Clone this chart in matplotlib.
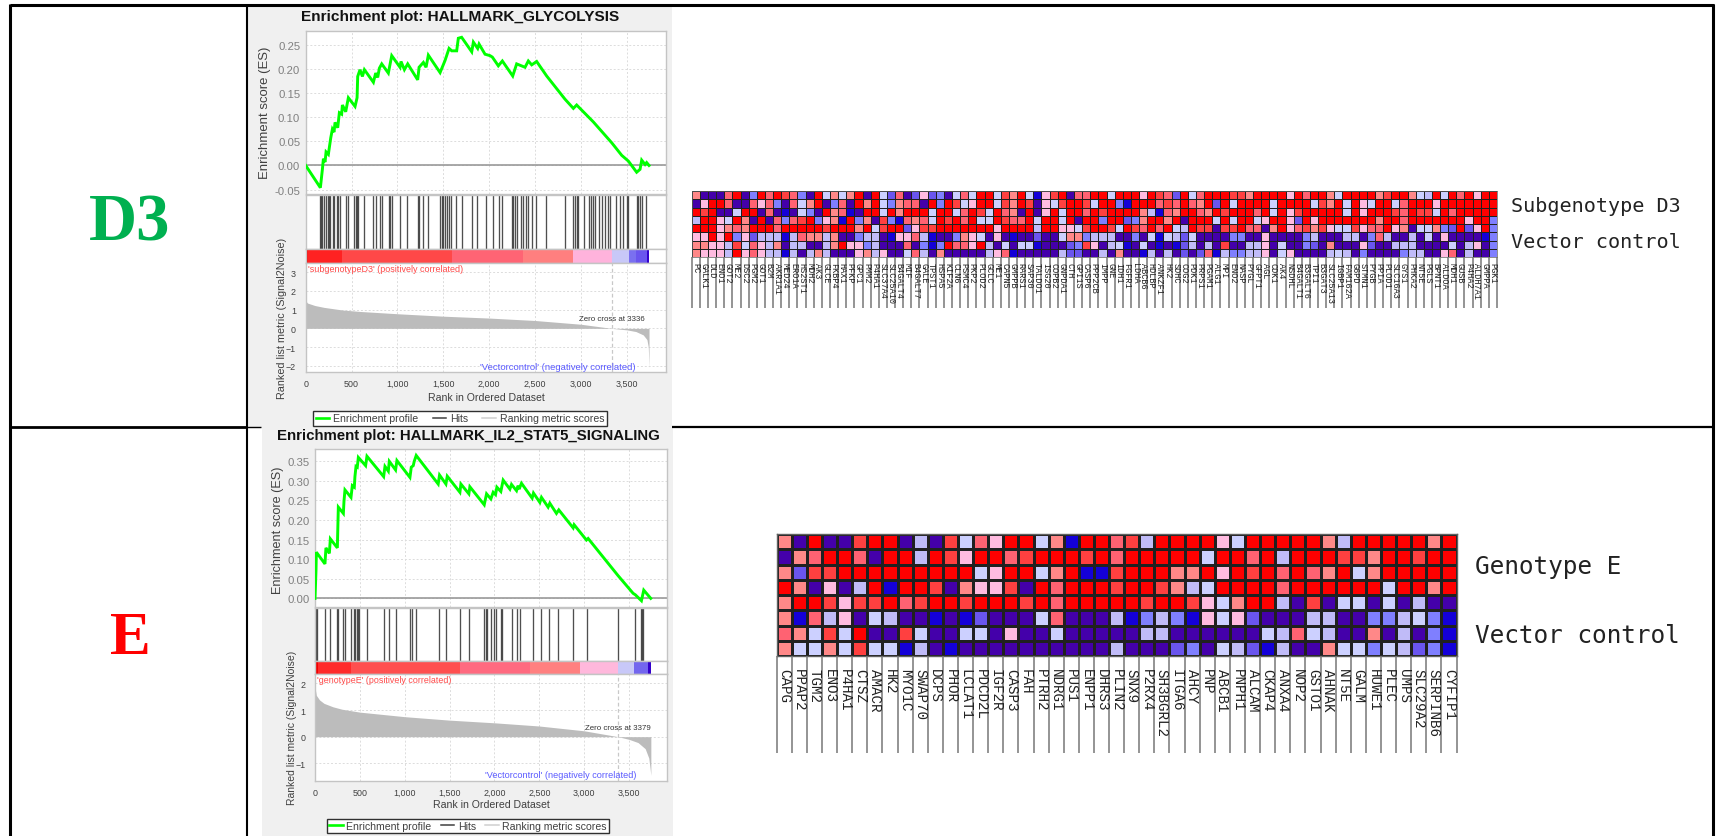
import matplotlib
matplotlib.use("Agg")
import matplotlib.pyplot as plt
import numpy as np
from matplotlib.colors import ListedColormap
from matplotlib.lines import Line2D
from matplotlib.patches import Rectangle

W, H = 1721, 837

# ---- GSEA panel D3
d3_es_rank = [0, 160, 182, 193, 211, 222, 247, 273, 291, 309, 320, 349, 367, 392, 400, 436, 465, 538, 560, 567,
              592, 618, 640, 738, 763, 785, 803, 829, 901, 938, 1028, 1039, 1076, 1112, 1221, 1236, 1283, 1312,
              1337, 1465, 1519, 1563, 1592, 1646, 1664, 1700, 1810, 1828, 1875, 1890, 1955, 2010, 2035, 2100,
              2144, 2257, 2300, 2391, 2427, 2464, 2518, 2627, 2827, 2918, 2954, 3136, 3336, 3445, 3518, 3608,
              3645, 3663, 3700, 3717, 3743]
d3_es = [0, -0.046, -0.008, 0.014, 0.007, 0.028, 0.023, 0.057, 0.075, 0.069, 0.089, 0.078, 0.109, 0.106, 0.125,
         0.111, 0.140, 0.122, 0.140, 0.184, 0.198, 0.184, 0.198, 0.172, 0.191, 0.182, 0.201, 0.210, 0.191, 0.227,
         0.203, 0.215, 0.198, 0.210, 0.177, 0.203, 0.213, 0.203, 0.228, 0.192, 0.217, 0.242, 0.237, 0.237, 0.263,
         0.265, 0.235, 0.255, 0.242, 0.251, 0.230, 0.227, 0.224, 0.206, 0.216, 0.185, 0.210, 0.203, 0.216, 0.208,
         0.215, 0.185, 0.137, 0.118, 0.125, 0.090, 0.047, 0.021, 0.009, -0.014, -0.008, 0.011, 0.002, 0.006, 0]
d3_hits = [153, 167, 182, 204, 225, 240, 254, 269, 294, 313, 342, 356, 378, 436, 458, 527, 545, 563, 574, 636,
           738, 767, 810, 829, 905, 919, 938, 1028, 1108, 1221, 1239, 1283, 1330, 1461, 1483, 1501, 1519, 1544,
           1563, 1584, 1635, 1701, 1810, 1871, 1962, 2039, 2111, 2144, 2246, 2264, 2282, 2300, 2348, 2373, 2398,
           2427, 2471, 2507, 2620, 2827, 2918, 2936, 2954, 2973, 3034, 3089, 3111, 3136, 3154, 3198, 3234, 3263,
           3300, 3318, 3383, 3427, 3463, 3500, 3518, 3608, 3627, 3645, 3663, 3710]
d3_metric_rank = [0, 3, 20, 100, 200, 400, 600, 1000, 1500, 2000, 2500, 3000, 3336, 3500, 3600, 3680, 3720, 3735, 3743]
d3_metric = [1.6, 1.45, 1.35, 1.22, 1.12, 0.98, 0.90, 0.78, 0.65, 0.55, 0.42, 0.22, 0, -0.08, -0.17, -0.35, -0.6, -1.0, -2.1]
d3_band_edges = [0, 20, 400, 1600, 2370, 2910, 3336, 3530, 3600, 3725, 3743]
d3_band_colors = ['#f80000', '#ff2222', '#ff4848', '#ff6474', '#ff7f7f', '#ffb3dc', '#c8c8f8', '#7a70f0', '#6a55ee', '#3300cc']

# ---- GSEA panel E
e_es_rank = [0, 11, 15, 111, 122, 160, 171, 249, 260, 316, 323, 334, 401, 416, 438, 445, 457, 471, 483, 564, 579,
             765, 780, 817, 828, 898, 913, 1058, 1073, 1095, 1106, 1128, 1373, 1388, 1459, 1474, 1615, 1626, 1715,
             1726, 1886, 1912, 1960, 1986, 2012, 2027, 2071, 2097, 2172, 2190, 2246, 2264, 2275, 2301, 2420, 2435,
             2506, 2524, 2598, 2617, 2691, 2717, 2877, 2888, 3025, 3044, 3378, 3545, 3571, 3638, 3664, 3742]
e_es = [0, 0.071, 0.118, 0.088, 0.129, 0.115, 0.152, 0.129, 0.233, 0.217, 0.248, 0.277, 0.258, 0.288, 0.284, 0.311,
        0.337, 0.335, 0.360, 0.339, 0.363, 0.311, 0.337, 0.325, 0.350, 0.328, 0.352, 0.309, 0.335, 0.339, 0.350,
        0.365, 0.292, 0.315, 0.292, 0.312, 0.271, 0.292, 0.267, 0.285, 0.239, 0.267, 0.254, 0.271, 0.265, 0.284,
        0.273, 0.302, 0.279, 0.291, 0.275, 0.288, 0.279, 0.294, 0.256, 0.269, 0.245, 0.258, 0.233, 0.243, 0.217,
        0.226, 0.180, 0.188, 0.149, 0.153, 0.058, 0.013, 0.009, -0.006, 0.021, 0]
e_hits = [11, 22, 115, 163, 249, 256, 316, 330, 405, 434, 449, 464, 475, 486, 575, 768, 820, 902, 1062, 1076, 1121,
          1385, 1459, 1615, 1715, 1886, 1901, 1915, 1960, 1990, 2019, 2068, 2086, 2190, 2253, 2290, 2428, 2517, 2610,
          2710, 2877, 3029, 3374, 3571, 3638, 3649, 3660]
e_metric_rank = [0, 15, 50, 100, 200, 300, 500, 1000, 1500, 2000, 2500, 3000, 3379, 3500, 3600, 3680, 3720, 3735, 3743]
e_metric = [1.85, 1.55, 1.38, 1.25, 1.12, 1.03, 0.92, 0.75, 0.62, 0.52, 0.40, 0.22, 0, -0.1, -0.22, -0.45, -0.8, -1.2, -1.45]
e_band_edges = [0, 30, 400, 1620, 2400, 2950, 3379, 3550, 3710, 3743]
e_band_colors = ['#f00000', '#ff2a2a', '#ff4f4f', '#ff6a80', '#ff8080', '#ffb8dc', '#c8c8f8', '#7366ee', '#3300cc']

rank_ticks = [0, 500, 1000, 1500, 2000, 2500, 3000, 3500]
rank_labels = ['0', '500', '1,000', '1,500', '2,000', '2,500', '3,000', '3,500']

# ---- heat maps, one letter per colour level
level_keys = 'rosmplcbvdu'
level_colors = ['#ff0000', '#ff4040', '#ff6272', '#ff8888', '#ffbbe0', '#ccd0ff', '#c0bbf8',
                '#7f7fff', '#6a55ee', '#4400aa', '#1400d8']

d3_rows = [
    'mdddsrdbrsrosbdrlmlmrdr' 'lvsdvpvbdlslrrlomrlupor' 'd' 'ssrrlrrrprosvrlsrrroomrr' 'rrprsrrmlrrrrmorrmlcrlrs' 'rprr',
    'dprrsddspsbdslmrdbsdrmr' 'lbmssdrbrolprrlomrodplo' 'r' 'rolrrburrrsosrsmrvrlrrrr' 'lrrrrlomrlrplrrlsrrrprrr' 'rrrr',
    'rorddlrrdsdudlbdrmsudrr' 'lrmrrrlrrlsrolrsmdrdprl' 'r' 'rsrorrrrmcusmrrsmrorrrsr' 'lrporrrrrlrprrrosroolrsr' 'rrrr',
    'crrplrmdrdsbsorbpmurbmd' 'obusmslrorsrllrossrlrrl' 'r' 'drrbrrvbmrrmrdrrrlrlrrlp' 'rrpvrprrrrrrrmrrsrrrrrrr' 'prrb',
    'rrrpmsmrrrsrrrrrorrrmrl' 'orrvpoorrrrrrrprrrrcrrp' 'p' 'lorrolrosrsrlcroodoorssd' 'mrpsomopllopssrpmdllmbvr' 'vprb',
    'pprprbpvcccucsmmcmddbcc' 'duppscuddbmpldpduddvddl' 'm' 'mbcccddbdlulcvlddddbbddp' 'ddddbcdddccdbscddcdldpdd' 'ddub',
    'mmppcolspcmdccddcmrppbc' 'dddsdbubrssprcdldlluddd' 'v' 'bopdcludlduduvcdcdoddccp' 'dlddbvdmdddpvddcccddddld' 'cpdb',
    'mpppcrpspccucdcmcdddpmc' 'pddlscdmdddddcpsudddddc' 'v' 'vddcdmdducdcdvdvsucbbccp' 'dlpddddclcdbddddbccddpsd' 'cddb',
]
d3_genes = ['PC', 'GALK1', 'DLD', 'ENO1', 'GOT2', 'ME2', 'DSC2', 'PGM2', 'GOT1', 'B2M', 'AKR1A1', 'MED24', 'ERO1A',
            'HS2ST1', 'MDH2', 'AK3', 'GLCE', 'FKBP4', 'HAX1', 'PFKP', 'GPC1', 'PMM2', 'P4HA1', 'SLC37A4', 'SLC25A10',
            'B4GALT4', 'MIF', 'B4GALT7', 'GALE', 'TPST1', 'HSPA5', 'KIF2A', 'CLN6', 'PSMC4', 'PKP2', 'PLOD2', 'GCLC',
            'ME1', 'CAPN5', 'GMPPB', 'RARS1', 'SAP30', 'TALDO1', 'ISG20', 'COPB2', 'GNPDA1', 'CTH', 'GPI1S', 'CASP6',
            'PPP2CB', 'IMPP', 'GNE', 'IDH1', 'FGFR1', 'LDHA', 'ABCB6', 'HDLBP', 'ANKZF1', 'HK2', 'SDHC', 'COG2', 'PDK1',
            'PRPS1', 'PGAM1', 'ALG1', 'MPI', 'ENO2', 'NASP', 'PYGL', 'GFPT1', 'AGL', 'CDK1', 'AK4', 'NSDHL', 'B4GALT1',
            'B3GALT6', 'TPI1', 'B3GAT3', 'SLC25A13', 'IGBP1', 'FAM162A', 'G6PD', 'STMN1', 'PYGB', 'PPIA', 'PLOD1',
            'SLC16A3', 'GYS1', 'PHKA2', 'NT5E', 'PGLS', 'BPNT1', 'ALDOA', 'MDH1', 'GUSB', 'P4HA2', 'ALDH7A1', 'GMPPA',
            'PGK1']

e_rows = [
    'mdrddorrdcdolsprrlmurrs' 'ocrrrrplrrrrrmcrrrrrmr',
    'dmsrrsdrrcroprrsorrrors' 'rrrrrlrrsrcrrroomrrorr',
    'mvoorrrrrrrrrlprrlmruuo' 'rrrmmrprorsrsmrlmrrrrr',
    'rmdpdcrurrodmppodrsrrro' 'rromclrrrrsrrrrrrlrrmr',
    'mrropoorsorrorrrorsrrrr' 'rorroplmrrcdodlldldcdd',
    'muscpdlcdduduvdddlsdddc' 'ubcbuplpvdddccddbbclbu',
    'smlolrddolddlldpddldddd' 'dccddddddlcslcddmdcdbu',
    'mllmlollucdu' 'dddddddddd' 'c' 'dddvbdlcvucddmllblcvbu',
]
e_genes = ['CAPG', 'PPAP2', 'TGM2', 'ENO3', 'P4HA1', 'CTSZ', 'AMACR', 'HK2', 'MYO1C', 'SWAP70', 'DCPS', 'PHOR', 'LCLAT1',
           'PDCD2L', 'IGF2R', 'CASP3', 'FAH', 'PTRH2', 'NDRG1', 'PUS1', 'ENPP1', 'DHRS3', 'PLIN2', 'SNX9', 'P2RX4',
           'SH3BGRL2', 'ITGA6', 'AHCY', 'PNP', 'ABCB1', 'PNPH1', 'ALCAM', 'CKAP4', 'ANXA4', 'NOP2', 'GSTO1', 'AHNAK',
           'NT5E', 'GALM', 'HUWE1', 'PLEC', 'UMPS', 'SLC29A2', 'SERPINB6', 'CYFIP1']


def px_axes(left, top, right, bottom):
    ax = fig.add_axes([left / W, 1 - bottom / H, (right - left) / W, (bottom - top) / H])
    return ax


def px_text(x, y, s, **kw):
    fig.text(x / W, 1 - y / H, s, ha=kw.pop('ha', 'center'), va=kw.pop('va', 'center'), **kw)


def px_line(x0, y0, x1, y1, lw=2.2, color='black'):
    fig.add_artist(Line2D([x0 / W, x1 / W], [1 - y0 / H, 1 - y1 / H], lw=lw, color=color, solid_capstyle='butt', zorder=5))


def style_frame(ax):
    for s in ax.spines.values():
        s.set_color('#c4c4c4')
        s.set_linewidth(1.0)


def gsea(box, xmax, es_rank, es, es_ylim, es_ticks, hits, band_edges, band_colors, metric_rank, metric,
         metric_ylim, metric_ticks, zero_cross):
    left, right, t0, t1, t2, t3, t4 = box
    ax1 = px_axes(left, t0, right, t1)
    ax1.plot(es_rank, es, color='#00ff00', lw=2.1, solid_joinstyle='miter', zorder=3)
    ax1.axhline(0, color='#999999', lw=1.2, zorder=2)
    ax1.set_xlim(0, xmax)
    ax1.set_ylim(*es_ylim)
    ax1.set_xticks(rank_ticks)
    ax1.set_yticks(es_ticks)
    ax1.set_yticklabels(['%.2f' % v for v in es_ticks])
    ax1.tick_params(axis='x', bottom=False, labelbottom=False)
    ax1.tick_params(axis='y', length=0, pad=4, labelsize=8.2, labelcolor='#808080')
    ax1.grid(True, color='#dcdcdc', ls=(0, (2, 2)), lw=0.7)
    style_frame(ax1)

    ax2 = px_axes(left, t1 + 1, right, t2)
    ax2.vlines(hits, 0, 1, color='#303030', lw=0.95, alpha=0.85)
    ax2.set_xlim(0, xmax)
    ax2.set_ylim(0, 1)
    ax2.set_xticks([])
    ax2.set_yticks([])
    style_frame(ax2)

    ax3 = px_axes(left, t2, right, t3)
    for i, c in enumerate(band_colors):
        ax3.axvspan(band_edges[i], band_edges[i + 1], color=c, lw=0)
    ax3.set_xlim(0, xmax)
    ax3.set_xticks([])
    ax3.set_yticks([])
    style_frame(ax3)

    ax4 = px_axes(left, t3, right, t4)
    ax4.fill_between(metric_rank, metric, 0, color='#bcbcbc', lw=0, zorder=2)
    ax4.axvline(zero_cross, color='#c8c8c8', ls=(0, (3, 2)), lw=0.9, zorder=3)
    ax4.set_xlim(0, xmax)
    ax4.set_ylim(*metric_ylim)
    ax4.set_xticks(rank_ticks)
    ax4.set_xticklabels(rank_labels)
    ax4.set_yticks(metric_ticks)
    ax4.tick_params(axis='x', length=0, pad=5, labelsize=6.4, labelcolor='#404040')
    ax4.tick_params(axis='y', length=0, pad=7, labelsize=6.4, labelcolor='#404040')
    ax4.grid(True, color='#dcdcdc', ls=(0, (2, 2)), lw=0.7)
    ax4.set_axisbelow(True)
    style_frame(ax4)
    return ax4


def heat(left, top, right, bottom, line_end, rows, genes, fs, text_gap, lw):
    values = np.array([[level_keys.index(c) for c in row] for row in rows])
    ax = px_axes(left, top, right, bottom)
    ax.pcolormesh(np.arange(values.shape[1] + 1), np.arange(values.shape[0] + 1), values,
                  cmap=ListedColormap(level_colors), vmin=-0.5, vmax=len(level_colors) - 0.5,
                  edgecolors='#202020', linewidth=lw)
    ax.set_xlim(0, values.shape[1])
    ax.set_ylim(values.shape[0], 0)
    ax.set_xticks([])
    ax.set_yticks([])
    for s in ax.spines.values():
        s.set_color('#606060')
        s.set_linewidth(lw)
    ax_lab = px_axes(left, bottom, right, line_end)
    ax_lab.axis('off')
    ax_lab.set_xlim(0, values.shape[1])
    ax_lab.set_ylim(line_end - bottom, 0)
    ax_lab.vlines(np.arange(values.shape[1] + 1), 0, line_end - bottom, color='#777777', lw=1.1, clip_on=False)
    for i, g in enumerate(genes):
        ax_lab.text(i + 0.5, text_gap, g, rotation=-90, ha='center', va='top', fontsize=fs, color='#222222',
                    family='Liberation Mono')


def legend_box(x0, y0, x1, y1, fs, gap):
    handles = [Line2D([], [], color='#00ff00', lw=1.9), Line2D([], [], color='#404040', lw=1.1),
               Line2D([], [], color='#d0d0d0', lw=1.1)]
    leg = fig.legend(handles, ['Enrichment profile', 'Hits', 'Ranking metric scores'], ncol=3, fontsize=fs,
                     loc='center', bbox_to_anchor=((x0 + x1) / 2 / W, 1 - (y0 + y1) / 2 / H),
                     fancybox=False, edgecolor='#303030', framealpha=1, borderaxespad=0, borderpad=0.22,
                     handlelength=1.3, handletextpad=0.35, columnspacing=gap, labelcolor='#404040')
    leg.get_frame().set_linewidth(1.0)


plt.rcParams['font.family'] = ['Liberation Sans', 'DejaVu Sans']
fig = plt.figure(figsize=(W / 100, H / 100), dpi=100, facecolor='white')

# grey panels behind the charts
fig.add_artist(Rectangle((247 / W, 1 - 428 / H), 425 / W, 421 / H, color='#f0f0f0', lw=0, zorder=-5))
fig.add_artist(Rectangle((262 / W, 0), 411 / W, 409 / H, color='#f0f0f0', lw=0, zorder=-4))

# table rules
px_line(10, 6, 1714, 6)
px_line(10, 5, 10, 837)
px_line(1713, 5, 1713, 837)
px_line(10, 428, 247, 428, lw=2.0)
px_line(672, 428, 1713, 428, lw=1.6)
px_line(247, 5, 247, 837, lw=1.5)
px_line(247, 428, 261, 428, lw=1.0)

px_text(130, 224, 'D3', family='Liberation Serif', weight='bold', fontsize=48, color='#00b050')
px_text(130, 639, 'E', family='Liberation Serif', weight='bold', fontsize=44, color='#ff0000')

# D3 chart
ax = gsea((305.7, 666, 32, 195, 250, 264, 373), 3928, d3_es_rank, d3_es, (-0.059, 0.278),
          [-0.05, 0, 0.05, 0.10, 0.15, 0.20, 0.25], d3_hits, d3_band_edges, d3_band_colors,
          d3_metric_rank, d3_metric, (-2.33, 3.49), [-2, -1, 0, 1, 2, 3], 3336)
ax.text(30, 3.2, "'subgenotypeD3' (positively correlated)", color='#ff4a4a', fontsize=6.5, va='center')
ax.text(3601, -2.03, "'Vectorcontrol' (negatively correlated)", color='#5a5aff', fontsize=6.8, va='center', ha='right')
ax.text(3692, 0.55, 'Zero cross at 3336', color='#333333', fontsize=5.7, va='center', ha='right')
px_text(460, 17, 'Enrichment plot: HALLMARK_GLYCOLYSIS', weight='bold', fontsize=11.1, color='#111111')
px_text(265, 113, 'Enrichment score (ES)', rotation=90, fontsize=9.45, color='#404040')
px_text(282, 318, 'Ranked list metric (Signal2Noise)', rotation=90, fontsize=7.75, color='#404040')
px_text(486, 398, 'Rank in Ordered Dataset', fontsize=7.6, color='#404040')
legend_box(314, 411, 606, 428, 7.6, 1.35)

# E chart
ax = gsea((315, 667, 450, 608, 661.7, 675, 781.7), 3923, e_es_rank, e_es, (-0.022, 0.3815),
          [0, 0.05, 0.10, 0.15, 0.20, 0.25, 0.30, 0.35], e_hits, e_band_edges, e_band_colors,
          e_metric_rank, e_metric, (-1.65, 2.35), [-1, 0, 1, 2], 3379)
ax.text(20, 2.15, "'genotypeE' (positively correlated)", color='#ff4a4a', fontsize=6.4, va='center')
ax.text(3586, -1.4, "'Vectorcontrol' (negatively correlated)", color='#5a5aff', fontsize=6.6, va='center', ha='right')
ax.text(3742, 0.35, 'Zero cross at 3379', color='#333333', fontsize=5.7, va='center', ha='right')
px_text(468, 436, 'Enrichment plot: HALLMARK_IL2_STAT5_SIGNALING', weight='bold', fontsize=10.8, color='#111111')
px_text(278, 530, 'Enrichment score (ES)', rotation=90, fontsize=9.1, color='#404040')
px_text(292, 728, 'Ranked list metric (Signal2Noise)', rotation=90, fontsize=7.5, color='#404040')
px_text(491, 805, 'Rank in Ordered Dataset', fontsize=7.6, color='#404040')
legend_box(327, 818, 609, 836, 7.6, 0.85)

# heat maps
heat(691.7, 192, 1497, 258, 308.5, d3_rows, d3_genes, 6.2, 5, 0.5)
heat(776.7, 535, 1456.5, 657, 754, e_rows, e_genes, 10.3, 12.5, 1.0)

px_text(1511, 207, 'Subgenotype D3', ha='left', family='DejaVu Sans Mono', fontsize=14.5, color='#222222')
px_text(1511, 243, 'Vector control', ha='left', family='DejaVu Sans Mono', fontsize=14.5, color='#222222')
px_text(1475, 567, 'Genotype E', ha='left', family='DejaVu Sans Mono', fontsize=17.6, color='#222222')
px_text(1475, 636, 'Vector control', ha='left', family='DejaVu Sans Mono', fontsize=17.6, color='#222222')

fig.savefig('out.png', dpi=100)
